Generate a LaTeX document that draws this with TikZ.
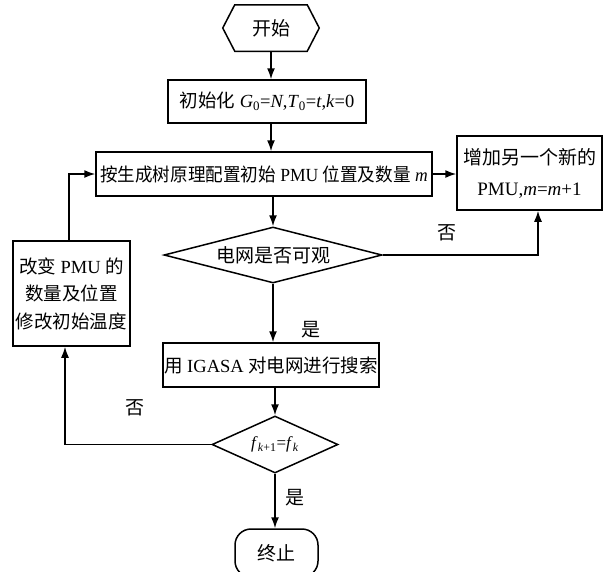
\documentclass[tikz,border=0pt]{standalone}
\usepackage{fontspec}
\usepackage{graphicx}
\setmainfont{Liberation Serif}
\newfontfamily\cjk{Noto Sans CJK SC}
\usetikzlibrary{shapes.geometric,arrows.meta}
\tikzset{
  box/.style={draw, line width=1.5pt, inner sep=0pt, align=center, font=\fontsize{18.5}{27.5}\selectfont},
  dia/.style={draw, diamond, aspect=3.5, line width=1.5pt, inner sep=0pt, font=\fontsize{19}{24}\selectfont},
  arr/.style={line width=1.5pt, -{Latex[length=11pt,width=8pt]}},
  lbl/.style={inner sep=0pt, font=\fontsize{19}{20}\selectfont\cjk}
}
\begin{document}
\begin{tikzpicture}[x=1pt,y=-1pt]
\useasboundingbox (0,0) rectangle (610,571);
% nodes
\node[box, draw=none, minimum width=95pt, minimum height=45pt, font=\fontsize{19}{24}\selectfont] (start) at (271,28) {\cjk 开始};
\draw[line width=1.5pt] (start.west) -- ([xshift=12pt]start.north west) -- ([xshift=-12pt]start.north east) -- (start.east) -- ([xshift=-12pt]start.south east) -- ([xshift=12pt]start.south west) -- cycle;
\node[box, minimum width=198pt, minimum height=43pt] (init) at (267,101.5)
  {{\cjk 初始化} \textit{G}\textsubscript{0}=\textit{N},\textit{T}\textsubscript{0}=\textit{t},\textit{k}=0};
\node[box, minimum width=336pt, minimum height=44pt] (main) at (264,174)
  {\scalebox{0.95}[1]{{\cjk 按生成树原理配置初始} PMU {\cjk 位置及数量} \textit{m}}};
\node[box, minimum width=145pt, minimum height=74pt, font=\fontsize{19}{31}\selectfont] (newpmu) at (529.5,173)
  {{\cjk 增加另一个新的}\\PMU,\textit{m}=\textit{m}+1};
\node[dia, minimum width=218pt, minimum height=56pt] (dia1) at (273,255) {\cjk 电网是否可观};
\node[box, minimum width=117pt, minimum height=105pt] (left) at (71.5,293.5)
  {{\cjk 改变} PMU {\cjk 的}\\{\cjk 数量及位置}\\{\cjk 修改初始温度}};
\node[box, minimum width=216pt, minimum height=44pt] (igasa) at (271,365)
  {{\cjk 用} IGASA {\cjk 对电网进行搜索}};
\node[dia, minimum width=126pt, minimum height=57pt, font=\fontsize{17}{20}\selectfont] (dia2) at (275,444.5)
  {\textit{f}\textsubscript{\textit{k}+1}=\textit{f}\textsubscript{\textit{k}}};
\node[box, rounded corners=16pt, minimum width=83pt, minimum height=48pt, font=\fontsize{19}{24}\selectfont] (term) at (276.5,553) {\cjk 终止};
% helper coordinates
\coordinate (c1) at (538,0);
\coordinate (c2) at (65,0);
\coordinate (c3) at (69,0);
% connectors
\draw[arr] (start.south) -- (start.south |- init.north);
\draw[arr] (init.south -| start) -- (start |- main.north);
\draw[arr] (main.south -| dia1) -- (dia1.north);
\draw[arr] (main.east) -- (main.east -| newpmu.west);
\draw[arr] (dia1.east) -| (c1 |- newpmu.south);
\draw[arr] (dia1.south) -- (dia1.south |- igasa.north);
\draw[arr] (igasa.south -| dia2) -- (dia2.north);
\draw[arr] (dia2.south) -- (dia2.south |- term.north);
\draw[arr] (dia2.west) -| (c2 |- left.south);
\draw[arr] (c3 |- left.north) |- (main.west);
% labels
\node[lbl] (l1) at (447,233) {否};
\node[lbl] (l2) at (311,330) {是};
\node[lbl] (l3) at (135,408) {否};
\node[lbl] (l4) at (295,498) {是};
\end{tikzpicture}
\end{document}
